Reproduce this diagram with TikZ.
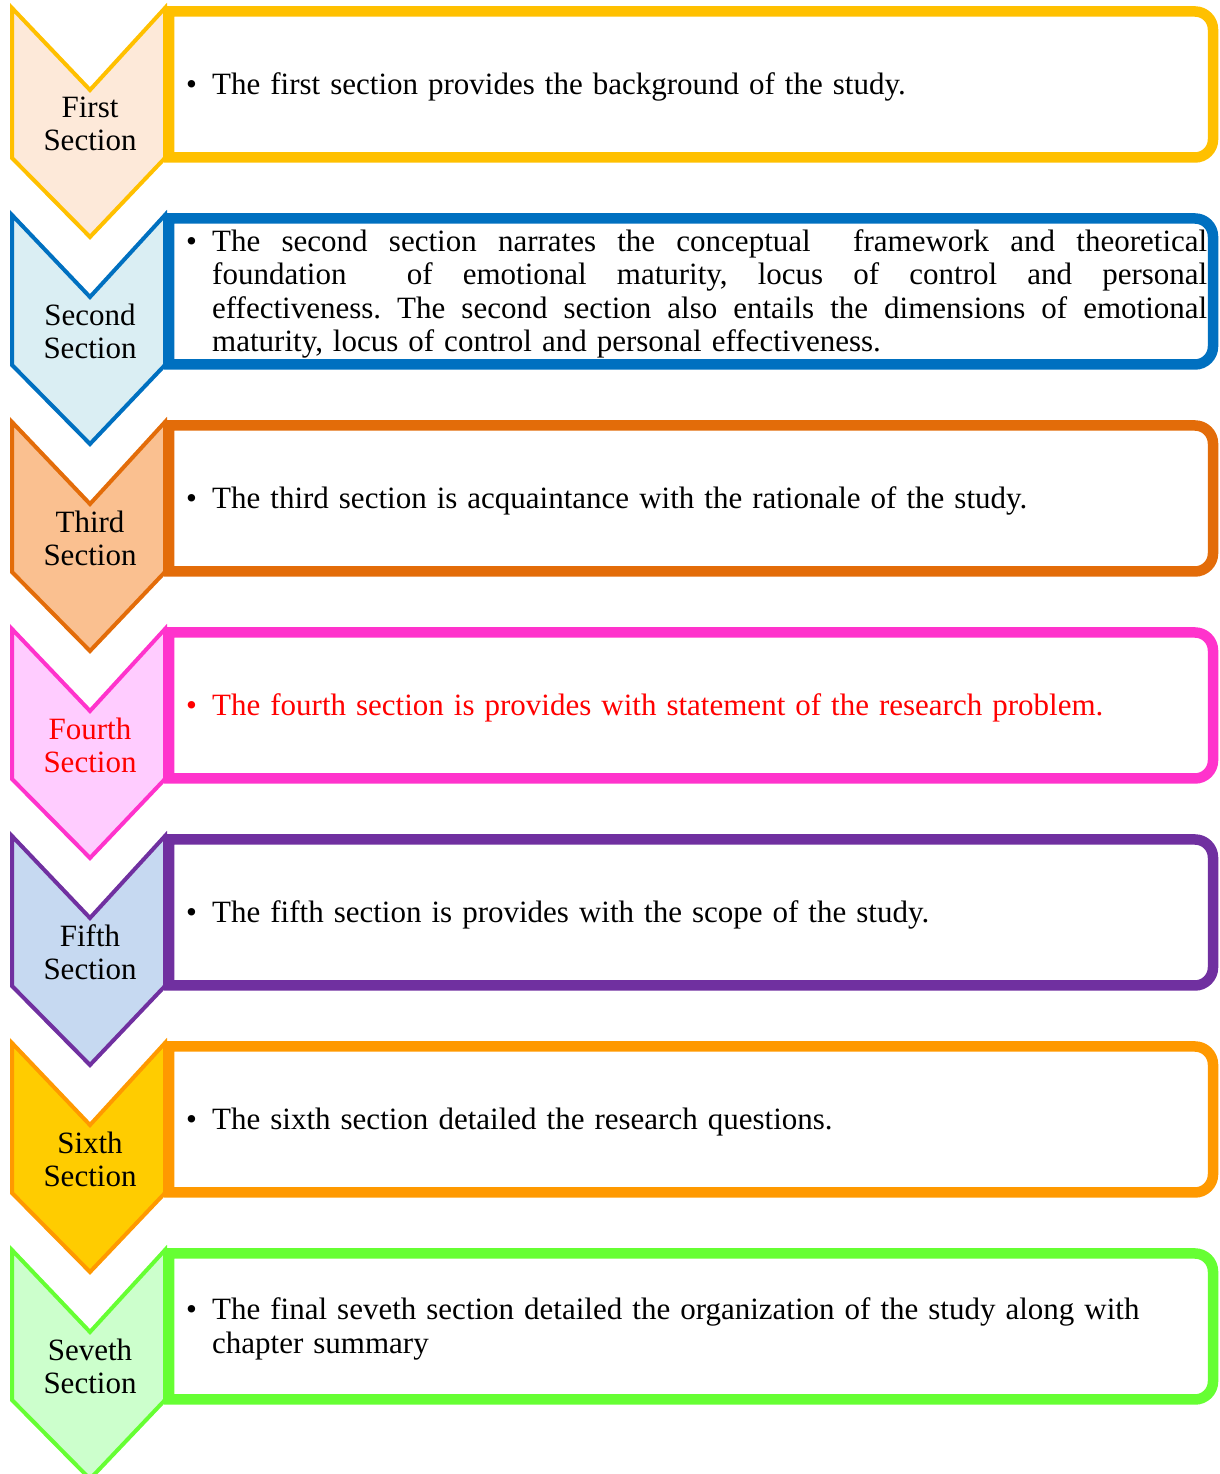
\documentclass[tikz,border=0pt]{standalone}
\usepackage{fontspec}
\setmainfont{Liberation Serif}
\definecolor{firstline}{HTML}{FFC000}
\definecolor{firstfill}{HTML}{FDE9D9}
\definecolor{secondline}{HTML}{0070C0}
\definecolor{secondfill}{HTML}{DAEEF3}
\definecolor{thirdline}{HTML}{E36C09}
\definecolor{thirdfill}{HTML}{FAC090}
\definecolor{fourthline}{HTML}{FF33CC}
\definecolor{fourthfill}{HTML}{FFCCFF}
\definecolor{fifthline}{HTML}{7030A0}
\definecolor{fifthfill}{HTML}{C6D9F1}
\definecolor{sixthline}{HTML}{FF9900}
\definecolor{sixthfill}{HTML}{FFCC00}
\definecolor{seventhline}{HTML}{66FF33}
\definecolor{seventhfill}{HTML}{CCFFCC}
\definecolor{redtext}{HTML}{FF0000}
\newcommand{\itembul}[1]{\makebox[26pt][l]{\textbullet}\parbox[t]{995pt}{\frenchspacing\spaceskip=10pt plus 6pt minus 2pt #1}}

\begin{document}
\begin{tikzpicture}[
    x=1pt, y=1pt,
    chevron/.style={line width=4pt, line join=miter},
    frame/.style={line width=10.5pt, line join=miter},
    label/.style={align=center, inner sep=0pt, font=\fontsize{31}{33}\selectfont},
    entry/.style={anchor=west, inner sep=0pt, font=\fontsize{31}{33.5}\selectfont}
  ]
    \useasboundingbox (0,0) rectangle (1219,1474);

    \begin{scope}[shift={(0,1466)}]
      \draw[chevron, draw=firstline, fill=firstfill] (12,0) -- (90,-82) -- (165,0) -- (165,-150) -- (90,-229) -- (12,-150) -- cycle;
      \draw[frame, draw=firstline, fill=white] (169,-3.5) -- (1195,-3.5) arc[start angle=90, end angle=0, radius=18] -- (1213,-131.5) arc[start angle=0, end angle=-90, radius=18] -- (169,-149.5) -- cycle;
      \node[label] (sec1) at (90,-116) {First\\Section};
      \node[entry] (txt1) at (186,-79) {\itembul{The first section provides the background of the study.}};
    \end{scope}

    \begin{scope}[shift={(0,1259)}]
      \draw[chevron, draw=secondline, fill=secondfill] (12,0) -- (90,-82) -- (165,0) -- (165,-150) -- (90,-229) -- (12,-150) -- cycle;
      \draw[frame, draw=secondline, fill=white] (169,-3.5) -- (1195,-3.5) arc[start angle=90, end angle=0, radius=18] -- (1213,-131.5) arc[start angle=0, end angle=-90, radius=18] -- (169,-149.5) -- cycle;
      \node[label] (sec2) at (90,-116) {Second\\Section};
      \node[entry] (txt2) at (186,-79) {\itembul{The second section narrates the conceptual\ \ framework and theoretical\linebreak
        foundation\ \ of emotional maturity, locus of control and personal\linebreak
        effectiveness. The second section also entails the dimensions of emotional\linebreak
        maturity, locus of control and personal effectiveness.}};
    \end{scope}

    \begin{scope}[shift={(0,1052)}]
      \draw[chevron, draw=thirdline, fill=thirdfill] (12,0) -- (90,-82) -- (165,0) -- (165,-150) -- (90,-229) -- (12,-150) -- cycle;
      \draw[frame, draw=thirdline, fill=white] (169,-3.5) -- (1195,-3.5) arc[start angle=90, end angle=0, radius=18] -- (1213,-131.5) arc[start angle=0, end angle=-90, radius=18] -- (169,-149.5) -- cycle;
      \node[label] (sec3) at (90,-116) {Third\\Section};
      \node[entry] (txt3) at (186,-79) {\itembul{The third section is acquaintance with the rationale of the study.}};
    \end{scope}

    \begin{scope}[shift={(0,845)}]
      \draw[chevron, draw=fourthline, fill=fourthfill] (12,0) -- (90,-82) -- (165,0) -- (165,-150) -- (90,-229) -- (12,-150) -- cycle;
      \draw[frame, draw=fourthline, fill=white] (169,-3.5) -- (1195,-3.5) arc[start angle=90, end angle=0, radius=18] -- (1213,-131.5) arc[start angle=0, end angle=-90, radius=18] -- (169,-149.5) -- cycle;
      \node[label, text=redtext] (sec4) at (90,-116) {Fourth\\Section};
      \node[entry, text=redtext] (txt4) at (186,-79) {\itembul{The fourth section is provides with statement of the research problem.}};
    \end{scope}

    \begin{scope}[shift={(0,638)}]
      \draw[chevron, draw=fifthline, fill=fifthfill] (12,0) -- (90,-82) -- (165,0) -- (165,-150) -- (90,-229) -- (12,-150) -- cycle;
      \draw[frame, draw=fifthline, fill=white] (169,-3.5) -- (1195,-3.5) arc[start angle=90, end angle=0, radius=18] -- (1213,-131.5) arc[start angle=0, end angle=-90, radius=18] -- (169,-149.5) -- cycle;
      \node[label] (sec5) at (90,-116) {Fifth\\Section};
      \node[entry] (txt5) at (186,-79) {\itembul{The fifth section is provides with the scope of the study.}};
    \end{scope}

    \begin{scope}[shift={(0,431)}]
      \draw[chevron, draw=sixthline, fill=sixthfill] (12,0) -- (90,-82) -- (165,0) -- (165,-150) -- (90,-229) -- (12,-150) -- cycle;
      \draw[frame, draw=sixthline, fill=white] (169,-3.5) -- (1195,-3.5) arc[start angle=90, end angle=0, radius=18] -- (1213,-131.5) arc[start angle=0, end angle=-90, radius=18] -- (169,-149.5) -- cycle;
      \node[label] (sec6) at (90,-116) {Sixth\\Section};
      \node[entry] (txt6) at (186,-79) {\itembul{The sixth section detailed the research questions.}};
    \end{scope}

    \begin{scope}[shift={(0,224)}]
      \draw[chevron, draw=seventhline, fill=seventhfill] (12,0) -- (90,-82) -- (165,0) -- (165,-150) -- (90,-229) -- (12,-150) -- cycle;
      \draw[frame, draw=seventhline, fill=white] (169,-3.5) -- (1195,-3.5) arc[start angle=90, end angle=0, radius=18] -- (1213,-131.5) arc[start angle=0, end angle=-90, radius=18] -- (169,-149.5) -- cycle;
      \node[label] (sec7) at (90,-116) {Seveth\\Section};
      \node[entry] (txt7) at (186,-79) {\itembul{The final seveth section detailed the organization of the study along with\\
        chapter summary}};
    \end{scope}
  \end{tikzpicture}
\end{document}
